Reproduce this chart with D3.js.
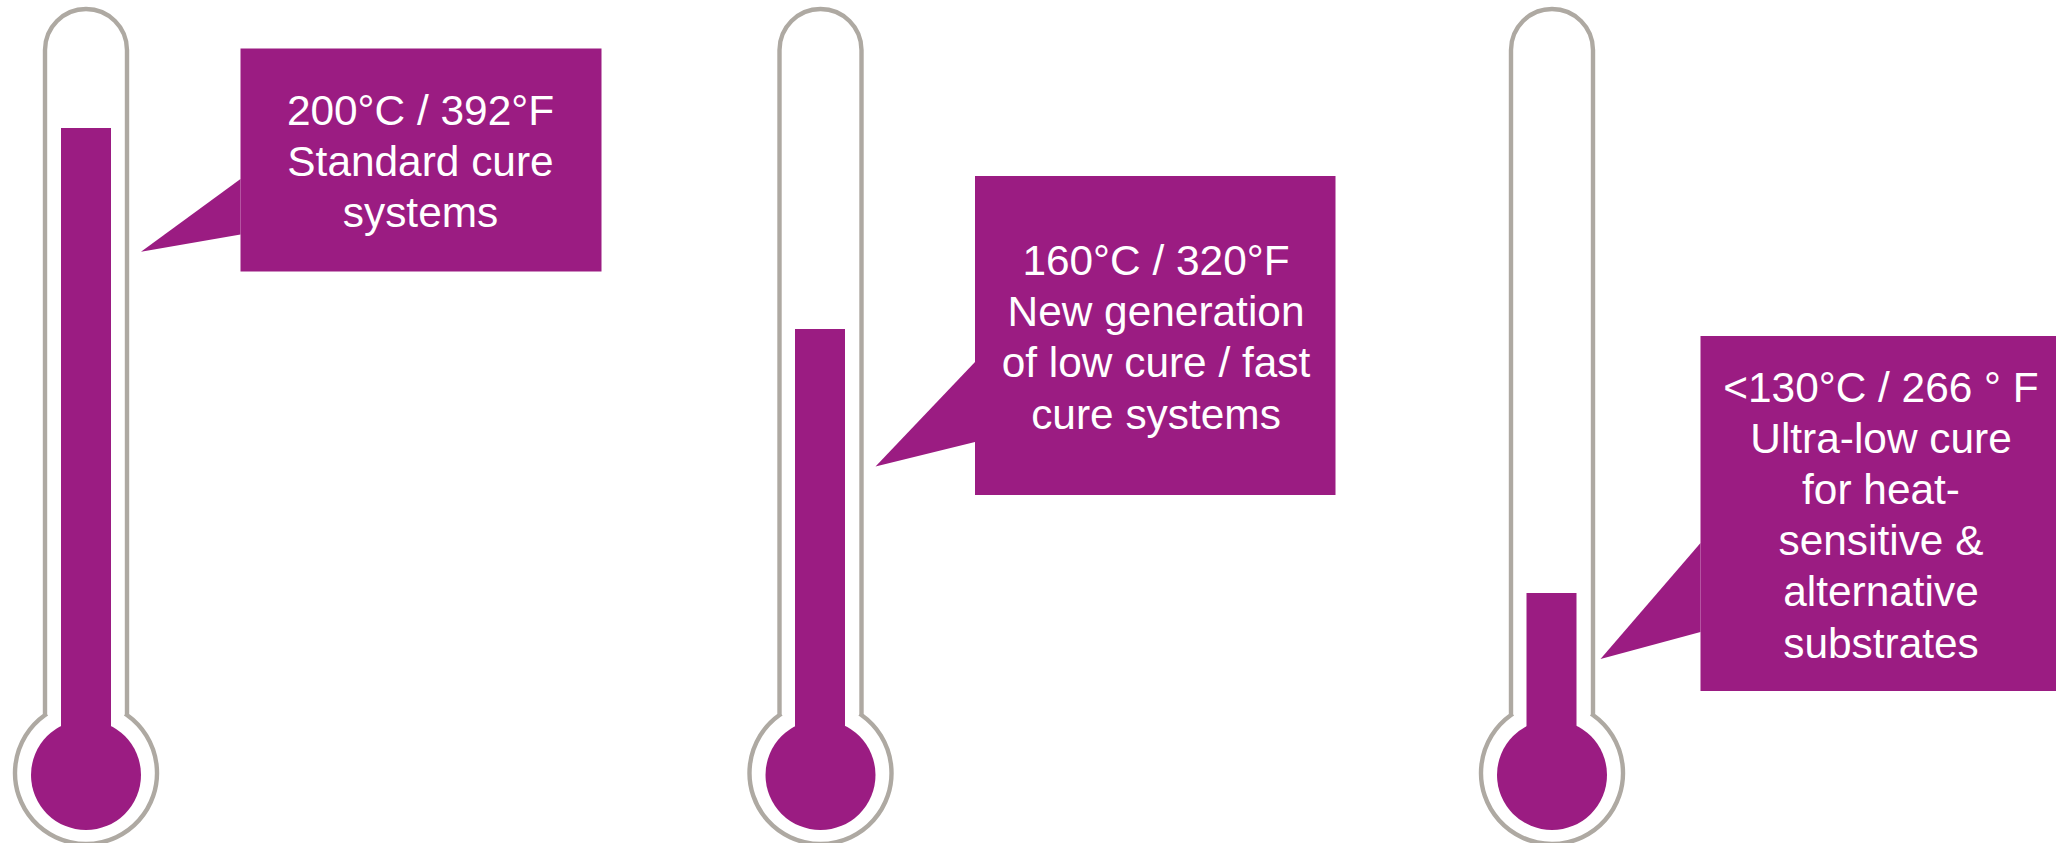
<!DOCTYPE html>
<html>
<head>
<meta charset="utf-8">
<title>Cure temperatures</title>
<script src="https://cdn.jsdelivr.net/npm/d3@7/dist/d3.min.js"></script>
<style>
  html, body { margin: 0; padding: 0; background: #fff; overflow: hidden; }
  svg { display: block; }
  text { font-family: "Liberation Sans", Arial, sans-serif; }
</style>
</head>
<body>
<div id="chart"></div>
<script>
// Cure systems and their temperatures
const systems = ["standard", "lowCure", "ultraLow"];
const temperaturesC = [200, 160, 130];
const captions = [
  ["200°C / 392°F", "Standard cure", "systems"],
  ["160°C / 320°F", "New generation", "of low cure / fast", "cure systems"],
  ["<130°C / 266 ° F", "Ultra-low cure", "for heat-", "sensitive &", "alternative", "substrates"]
];

// Page and thermometer geometry
const W = 2056, H = 843;
const PURPLE = "#9b1c82", GLASS = "#aea9a2";
const neckHalf = 41, fillHalf = 25, bulbR = 55, glassR = 71;
const glassTop = 50, neckBottom = 715, bulbY = 773, fillBulbY = 775;
const fontSize = 42.4, lineHeight = 51.2;

// The thermometers share a hand-drawn, non-uniform temperature scale
const x = d3.scaleOrdinal().domain(systems).range([86, 820.5, 1552]);
const fillX = d3.scaleOrdinal().domain(systems).range([86, 820, 1551.5]);
const y = d3.scaleLinear().domain([130, 160, 200]).range([593, 329, 128]);

// Callout boxes, their pointers and first text baseline
const calloutLayout = {
  standard: { x0: 240.5, x1: 601.5, y0: 48.5, y1: 271.5, tail: [[240.5, 179], [141, 251.7], [240.5, 234.5]], base: 125, cx: 420.5 },
  lowCure:  { x0: 975, x1: 1335.5, y0: 176, y1: 495, tail: [[975, 362], [875.5, 466.5], [975, 442]], base: 275, cx: 1156 },
  ultraLow: { x0: 1700.5, x1: 2056, y0: 336, y1: 691, tail: [[1700.5, 543], [1600.5, 659], [1700.5, 632]], base: 401.5, cx: 1881 }
};

const svg = d3.select("#chart").append("svg").attr("width", W).attr("height", H);

function glassPath(cx) {
  const l = cx - neckHalf, r = cx + neckHalf;
  const p = d3.path();
  p.moveTo(l, neckBottom);
  p.lineTo(l, glassTop);
  p.arc(cx, glassTop, neckHalf, Math.PI, 0);
  p.lineTo(r, neckBottom);
  const a = Math.atan2(neckBottom - bulbY, neckHalf);
  p.arc(cx, bulbY, glassR, a, Math.PI - a);
  p.closePath();
  return p.toString();
}

const rows = systems.map((key, i) => ({ key, temp: temperaturesC[i], lines: captions[i] }));
const groups = svg.selectAll("g.thermometer").data(rows).join("g").attr("class", "thermometer");

groups.append("path")
  .attr("d", d => glassPath(x(d.key)))
  .attr("fill", "none")
  .attr("stroke", GLASS)
  .attr("stroke-width", 4.4);

groups.append("circle")
  .attr("cx", d => x(d.key))
  .attr("cy", fillBulbY)
  .attr("r", bulbR)
  .attr("fill", PURPLE);

groups.append("rect")
  .attr("x", d => fillX(d.key) - fillHalf)
  .attr("width", fillHalf * 2)
  .attr("y", d => y(d.temp))
  .attr("height", d => fillBulbY - y(d.temp))
  .attr("fill", PURPLE);

groups.append("rect")
  .attr("x", d => calloutLayout[d.key].x0)
  .attr("y", d => calloutLayout[d.key].y0)
  .attr("width", d => calloutLayout[d.key].x1 - calloutLayout[d.key].x0)
  .attr("height", d => calloutLayout[d.key].y1 - calloutLayout[d.key].y0)
  .attr("fill", PURPLE);

groups.append("path")
  .attr("d", d => d3.line()(calloutLayout[d.key].tail) + "Z")
  .attr("fill", PURPLE);

groups.append("text")
  .attr("text-anchor", "middle")
  .attr("fill", "#fff")
  .attr("font-size", fontSize)
  .selectAll("tspan")
  .data(d => d.lines.map((t, i) => ({ t, i, c: calloutLayout[d.key] })))
  .join("tspan")
  .attr("x", d => d.c.cx)
  .attr("y", d => d.c.base + d.i * lineHeight)
  .text(d => d.t);
</script>
</body>
</html>
